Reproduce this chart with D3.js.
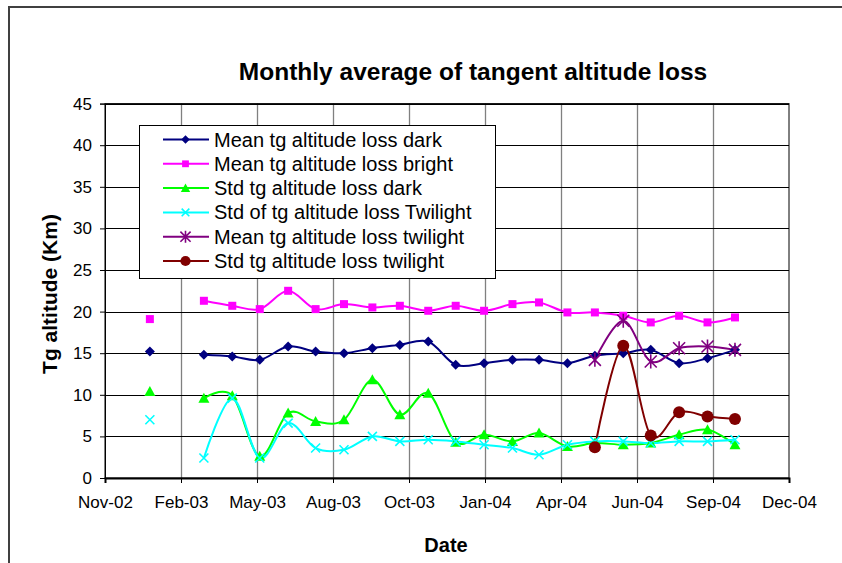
<!DOCTYPE html>
<html><head><meta charset="utf-8">
<script src="https://cdn.jsdelivr.net/npm/d3@7"></script>
<style>html,body{margin:0;padding:0;background:#fff;overflow:hidden}</style>
</head><body>
<svg id="c" width="842" height="563"></svg>
<script>
// ---- data ----
const months = ["2003-01","2003-02","2003-03","2003-04","2003-05","2003-06","2003-07","2003-08","2003-09","2003-10","2003-11","2003-12",
  "2004-01","2004-02","2004-03","2004-04","2004-05","2004-06","2004-07","2004-08","2004-09","2004-10"];
const meanDark   = [15.2,null,14.8,14.6,14.2,15.8,15.2,15.0,15.6,16.0,16.4,13.6,13.8,14.2,14.2,13.8,14.7,15.0,15.4,13.8,14.4,15.4];
const meanBright = [19.1,null,21.3,20.7,20.3,22.5,20.3,20.9,20.5,20.7,20.1,20.7,20.1,20.9,21.1,19.9,19.9,19.5,18.7,19.5,18.7,19.3];
const stdDark    = [10.4,null,9.6,9.9,2.6,7.8,6.8,7.0,11.8,7.6,10.2,4.3,5.2,4.4,5.4,3.8,4.2,4.0,4.2,5.2,5.8,4.0];
const stdTwi2    = [7.0,null,2.4,9.6,2.4,6.6,3.6,3.4,5.0,4.4,4.6,4.4,4.0,3.6,2.8,4.0,4.4,4.4,4.2,4.4,4.4,4.6];
const meanTwi    = [null,null,null,null,null,null,null,null,null,null,null,null,null,null,null,null,14.2,18.9,14.0,15.6,15.8,15.4];
const stdTwi     = [null,null,null,null,null,null,null,null,null,null,null,null,null,null,null,null,3.7,15.9,5.1,7.9,7.4,7.1];
const seriesNames = ["Mean tg altitude loss dark","Mean tg altitude loss bright","Std tg altitude loss dark",
  "Std of tg altitude loss Twilight","Mean tg altitude loss twilight","Std tg altitude loss twilight"];
const seriesColors = ["#000080","#FF00FF","#00FF00","#00FFFF","#800080","#800000"];
const seriesMarkers = ["diamond","square","triangle","x","asterisk","circle"];
const xTickLabels = ["Nov-02","Feb-03","May-03","Aug-03","Oct-03","Jan-04","Apr-04","Jun-04","Sep-04","Dec-04"];
const yTicks = [0,5,10,15,20,25,30,35,40,45];
const xStart = "2002-11-27", xStepDays = 83;

const allSeries = [meanDark, meanBright, stdDark, stdTwi2, meanTwi, stdTwi];

// ---- layout ----
const svg = d3.select("#c");
const L = 105, R = 789, T = 103.6, B = 478;
const FONT = "Liberation Sans, Arial, sans-serif";
const parse = d3.timeParse("%Y-%m-%d");
const t0 = parse(xStart);
const tickDates = xTickLabels.map((d,i)=> d3.timeDay.offset(t0, i*xStepDays));
const x = d3.scaleTime().domain([tickDates[0], tickDates[tickDates.length-1]]).range([L,R]);
const y = d3.scaleLinear().domain([0,45]).range([B,T]);
const mDate = m => parse(m+"-15");

// outer frame (extends past the visible window on right and bottom)
svg.append("rect").attr("x",9).attr("y",7).attr("width",1000).attr("height",700)
  .attr("fill","#fff").attr("stroke","#404040").attr("stroke-width",2);

// title
svg.append("text").attr("x",473).attr("y",80).attr("text-anchor","middle")
  .attr("font-family",FONT).attr("font-weight","bold").attr("font-size",24.5)
  .text("Monthly average of tangent altitude loss");

// gridlines
const g = svg.append("g");
g.selectAll("line.vg").data(tickDates.slice(1,-1)).enter().append("line")
  .attr("x1",d=>Math.round(x(d))+0.5).attr("x2",d=>Math.round(x(d))+0.5).attr("y1",T).attr("y2",B)
  .attr("stroke","#808080").attr("stroke-width",1.3);
g.selectAll("line.hg").data(yTicks.slice(1)).enter().append("line")
  .attr("x1",L).attr("x2",R).attr("y1",d=>Math.round(y(d))+0.5).attr("y2",d=>Math.round(y(d))+0.5)
  .attr("stroke","#000").attr("stroke-width",1);
// plot border
svg.append("rect").attr("x",L).attr("y",T).attr("width",R-L).attr("height",B-T)
  .attr("fill","none").attr("stroke","#000").attr("stroke-width",1);

// axes
const xAxis = d3.axisBottom(x).tickValues(tickDates).tickFormat((d,i)=>xTickLabels[i]).tickSize(5).tickPadding(13);
const gx = svg.append("g").attr("transform",`translate(0,${B})`).call(xAxis);
gx.select(".domain").attr("stroke","#000").attr("stroke-width",2);
gx.selectAll("text").attr("font-family",FONT).attr("font-size",17).attr("fill","#000");
const yAxis = d3.axisLeft(y).tickValues(yTicks).tickSize(5).tickPadding(8);
const gy = svg.append("g").attr("transform",`translate(${L},0)`).call(yAxis);
gy.select(".domain").attr("stroke","#000");
gy.selectAll("text").attr("font-family",FONT).attr("font-size",17).attr("fill","#000");

// axis titles
svg.append("text").attr("x",446).attr("y",552).attr("text-anchor","middle")
  .attr("font-family",FONT).attr("font-weight","bold").attr("font-size",20).text("Date");
svg.append("text").attr("transform","translate(57,294) rotate(-90)").attr("text-anchor","middle")
  .attr("font-family",FONT).attr("font-weight","bold").attr("font-size",21).text("Tg altitude (Km)");

// markers
function drawMarker(sel, type, color, s){
  s = s || 1;
  if(type==="diamond") sel.append("path").attr("d",`M0,${-5*s}L${5*s},0L0,${5*s}L${-5*s},0Z`).attr("fill",color);
  else if(type==="square") sel.append("rect").attr("x",-4*s).attr("y",-4*s).attr("width",8*s).attr("height",8*s).attr("fill",color);
  else if(type==="triangle") sel.append("path").attr("d",`M0,${-5.5*s}L${5.5*s},${4.5*s}L${-5.5*s},${4.5*s}Z`).attr("fill",color);
  else if(type==="x") sel.append("path").attr("d",`M${-4.5*s},${-4.5*s}L${4.5*s},${4.5*s}M${-4.5*s},${4.5*s}L${4.5*s},${-4.5*s}`).attr("stroke",color).attr("stroke-width",1.6).attr("fill","none");
  else if(type==="asterisk") sel.append("path").attr("d",`M${-6*s},${-6*s}L${6*s},${6*s}M${-6*s},${6*s}L${6*s},${-6*s}M0,${-7*s}L0,${7*s}`).attr("stroke",color).attr("stroke-width",1.6).attr("fill","none");
  else if(type==="circle") sel.append("circle").attr("r",6*s).attr("fill",color);
}

const line = d3.line().defined(d=>d.v!=null).x(d=>x(d.date)).y(d=>y(d.v)).curve(d3.curveCatmullRom.alpha(0));
const plot = svg.append("g");
allSeries.forEach((vals,si)=>{
  const pts = months.map((m,i)=>({date:mDate(m), v:vals[i]}));
  plot.append("path").datum(pts).attr("d",line).attr("fill","none").attr("stroke",seriesColors[si]).attr("stroke-width",2);
});
allSeries.forEach((vals,si)=>{
  const pts = months.map((m,i)=>({date:mDate(m), v:vals[i]})).filter(d=>d.v!=null);
  pts.forEach(p=>{
    const gm = plot.append("g").attr("transform",`translate(${x(p.date)},${y(p.v)})`);
    drawMarker(gm, seriesMarkers[si], seriesColors[si]);
  });
});

// legend
const lg = svg.append("g");
lg.append("rect").attr("x",139.5).attr("y",125.5).attr("width",356).attr("height",153)
  .attr("fill","#fff").attr("stroke","#000").attr("stroke-width",1);
seriesNames.forEach((n,i)=>{
  const cy = 139.5 + i*24.3;
  lg.append("line").attr("x1",163).attr("x2",209).attr("y1",cy).attr("y2",cy).attr("stroke",seriesColors[i]).attr("stroke-width",2);
  drawMarker(lg.append("g").attr("transform",`translate(185.5,${cy})`), seriesMarkers[i], seriesColors[i], 0.85);
  lg.append("text").attr("x",214).attr("y",cy+7).attr("font-family",FONT)
    .attr("font-size",20).attr("fill","#000").text(n);
});
</script>
</body></html>
